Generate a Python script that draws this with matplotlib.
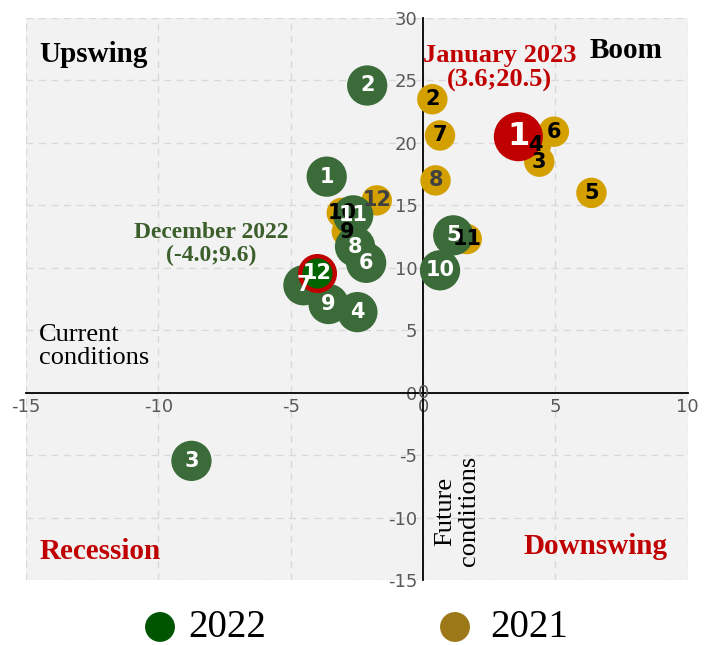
import numpy as np
import matplotlib.pyplot as plt

# 2022 months (green)
m22 = ['1', '2', '3', '4', '5', '6', '7', '8', '9', '10', '11']
x22 = [-3.64, -2.11, -8.75, -2.48, 1.14, -2.15, -4.52, -2.57, -3.57, 0.64, -2.64]
y22 = [17.3, 24.6, -5.46, 6.45, 12.6, 10.4, 8.6, 11.7, 7.1, 9.8, 14.2]

# 2021 months (yellow)
m21 = ['2', '3', '4', '5', '6', '7', '8', '9', '10', '11', '12']
x21 = [0.35, 4.39, 4.26, 6.36, 4.94, 0.64, 0.47, -2.88, -3.07, 1.65, -1.75]
y21 = [23.5, 18.5, 19.8, 16.0, 20.9, 20.6, 17.0, 12.9, 14.4, 12.3, 15.4]

# highlighted points
dec22 = (-4.0, 9.6)
jan23 = (3.6, 20.5)

green = '#3b6b38'
gold = '#d4a000'
red = '#c00000'

fig = plt.figure(figsize=(7.12, 6.45), dpi=100)
ax = fig.add_axes([0.0365, 0.1008, 0.9295, 0.8712])
ax.set_facecolor('#f2f2f2')
ax.set_xlim(-15, 10)
ax.set_ylim(-15, 30)
ax.set_xticks(np.arange(-15, 11, 5))
ax.set_yticks(np.arange(-15, 31, 5))
ax.grid(True, color='#d9d9d9', linestyle=(0, (5, 4)), linewidth=1.0)
ax.set_axisbelow(True)

for s in ['top', 'right']:
    ax.spines[s].set_visible(False)
ax.spines['left'].set_position(('data', 0))
ax.spines['bottom'].set_position(('data', 0))
ax.spines['left'].set_linewidth(1.3)
ax.spines['bottom'].set_linewidth(1.3)
ax.tick_params(length=0, labelsize=13, labelcolor='#595959', pad=4)
ax.set_xticklabels([str(v) for v in range(-15, 11, 5)])
ax.set_yticklabels([str(v) for v in range(-15, 31, 5)])
ax.text(0, 0, '0', ha='center', va='center', fontsize=13, color='#595959')

lblfont = dict(fontsize=15, fontweight='bold', ha='center', va='center', zorder=10,
               family='DejaVu Sans')

ax.scatter(x21, y21, s=480, color=gold, edgecolors='none', zorder=3)
ax.scatter(x22, y22, s=840, color=green, edgecolors='none', zorder=4)
ax.scatter([dec22[0]], [dec22[1]], s=620, color='#006400', edgecolors=red,
           linewidths=3.2, zorder=5)
ax.scatter([jan23[0]], [jan23[1]], s=1250, color=red, edgecolors='none', zorder=5)

for m, x, y in zip(m21, x21, y21):
    c = '#404040' if m in ('8', '12') else 'black'
    ax.text(x, y, m, color=c, **lblfont)
for m, x, y in zip(m22, x22, y22):
    ax.text(x, y, m, color='white', **lblfont)
ax.text(dec22[0], dec22[1], '12', color='white', **lblfont)
ax.text(jan23[0], jan23[1], '1', color='white', fontsize=23, fontweight='bold',
        ha='center', va='center', zorder=10)

serif = 'Liberation Serif'
ax.text(-14.5, 27.1, 'Upswing', fontsize=21, fontweight='bold', family=serif, va='center')
ax.text(6.3, 27.4, 'Boom', fontsize=21, fontweight='bold', family=serif, va='center')
ax.text(-14.5, -12.7, 'Recession', fontsize=21, fontweight='bold', family=serif,
        color=red, va='center')
ax.text(3.8, -12.3, 'Downswing', fontsize=21, fontweight='bold', family=serif,
        color=red, va='center')
ax.text(-14.5, 3.7, 'Current\nconditions', fontsize=19, family=serif, va='center',
        linespacing=1.1)
ax.text(1.3, -9.5, 'Future\nconditions', fontsize=19, family=serif, va='center',
        ha='center', rotation=90, linespacing=1.1)
ax.text(2.9, 26.0, 'January 2023\n(3.6;20.5)', fontsize=19, fontweight='bold',
        family=serif, color=red, ha='center', va='center', linespacing=1.1)
ax.text(-8.0, 11.9, 'December 2022\n(-4.0;9.6)', fontsize=17, fontweight='bold',
        family=serif, color='#3b5e2b', ha='center', va='center', linespacing=1.15)

# legend below the plot
lax = fig.add_axes([0, 0, 1, 0.09])
lax.set_xlim(0, 712)
lax.set_ylim(58, 0)
lax.axis('off')
lax.scatter([160, 455], [40, 40], s=[420, 420], color=['#005500', '#9c7818'])
lax.text(188, 41, '2022', fontsize=28, family=serif, va='center')
lax.text(490, 41, '2021', fontsize=28, family=serif, va='center')

fig.savefig('out.png', dpi=100)
